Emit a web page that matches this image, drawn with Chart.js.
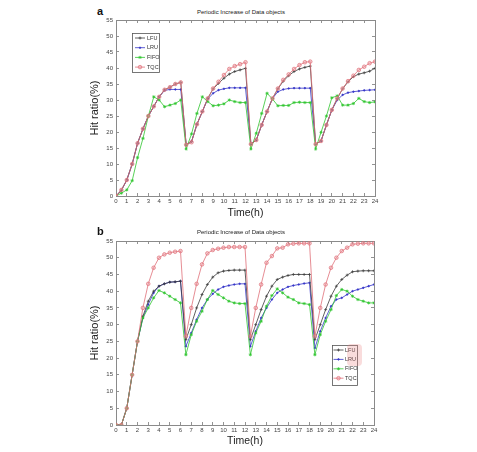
<!DOCTYPE html>
<html><head><meta charset="utf-8">
<script src="https://cdn.jsdelivr.net/npm/chart.js"></script>
<style>
body{margin:0;background:#fff;width:477px;height:452px;position:relative;overflow:hidden}
canvas{position:absolute;left:0}
.ttl{position:absolute;left:0;width:482px;text-align:center;font:6px 'Liberation Sans',sans-serif;color:#222;line-height:1}
.lt{position:absolute;left:97px;font:bold 11px 'Liberation Sans',sans-serif;color:#111;line-height:1}
</style></head>
<body>
<div class="lt" style="top:6px">a</div>
<div class="ttl" style="top:9px">Periodic Increase of Data objects</div>
<canvas id="ca" width="477" height="226" style="top:0"></canvas>
<div class="lt" style="top:226px">b</div>
<div class="ttl" style="top:229px">Periodic Increase of Data objects</div>
<canvas id="cb" width="477" height="226" style="top:226px"></canvas>
<script>
// ---- data ----
const times = [0,0.5,1,1.5,2,2.5,3,3.5,4,4.5,5,5.5,6,
  6.5,7,7.5,8,8.5,9,9.5,10,10.5,11,11.5,12,
  12.5,13,13.5,14,14.5,15,15.5,16,16.5,17,17.5,18,
  18.5,19,19.5,20,20.5,21,21.5,22,22.5,23,23.5,24];
const seriesNames = ['LFU','LRU','FIFO','TQC'];
const xTickLabels = [0,1,2,3,4,5,6,7,8,9,10,11,12,13,14,15,16,17,18,19,20,21,22,23,24];
const yTickLabels = [0,5,10,15,20,25,30,35,40,45,50,55];

// panel a
const lfuA = [0,1.8,5,10,16.5,21,25,28,31,33.2,34,35,35.5,
  16,17,22.4,26.4,30.5,33.5,35.2,36.8,38.1,38.9,39.4,39.9,
  16.2,17.5,22.2,26.4,30.5,33.5,35.9,37.6,38.9,39.7,40.2,40.6,
  16.2,17.2,22.2,26.9,30.5,33.5,35.7,37.3,38.1,38.5,39,39.9];
const lruA = [0,1.8,5,10,16.5,21,25,28,31,33,33.3,33.3,33.3,
  16,17,22.4,26.4,30.3,32.1,33.1,33.5,33.8,33.8,33.8,33.8,
  16.2,17.5,22.2,26.4,30.5,32.6,33.3,33.6,33.7,33.7,33.7,33.7,
  16.2,17.2,22.2,26.9,30,31.6,32.3,32.6,32.8,33,33.1,33.2];
const fifoA = [0,0.9,1.9,4.8,12,18,25,31,30,27.9,28.4,28.9,30,
  14.7,19.4,25.8,31,29.5,28.2,28.4,28.8,30,29.5,29.2,29.2,
  14.7,19.6,25.8,32.1,30.3,28.2,28.3,28.3,29.2,29.3,29.2,29.2,
  14.7,19.9,25,30.7,31.3,28.4,28.4,28.9,30.5,29.5,29.2,29.4];
const tqcA = [0,1.9,5,10,16.5,21,25,28,31,33.2,34,35,35.5,
  16,16.8,22.4,26.4,30.5,33.6,35.7,37.8,39.7,40.6,41.2,41.8,
  16.2,17.5,22.2,26.4,30.5,33.6,36.3,38,39.7,40.9,41.8,42,
  16.2,17.2,22.2,26.9,30.5,33.6,35.9,37.6,39.4,40.4,41.5,42];

// panel b
const lfuB = [0,0,5,15,25,32.5,37,40,41.5,42.2,42.7,42.8,43,
  25.5,30,35,39,42,44.2,45.5,46,46.2,46.3,46.3,46.3,
  25.5,30,34.5,38.5,41.5,43.5,44.2,44.7,45,45,45,45,
  25.5,30,34.5,38.5,41.5,43.5,44.8,45.8,46,46.1,46.1,46.1];
const lruB = [0,0,5,15,25,32,36,39.5,41.5,42.2,42.7,42.8,43,
  23.5,27.5,31.5,35,37.5,39.2,40.5,41.3,41.7,42,42.2,42.2,
  23.5,28,32,35,37.5,39.5,40.5,41.3,41.7,42,42.3,42.5,
  23,28,32,35.5,37.5,38,39,40,40.5,41,41.5,42];
const fifoB = [0,0,5,15,25,32,35,38,40.2,39.5,38.5,37.5,36.5,
  21,27,31,34,37.5,40.2,39,38,37,36.5,36.3,36.3,
  21,27.5,31,35.5,38.7,40.7,39.5,38.2,37.5,36.5,36.3,36,
  21,27,31,34.5,38.7,40.5,40,38.5,37.5,37,36.5,36.5];
const tqcB = [0,0,5,15,25,35,42.2,47,50,51,51.5,51.8,52,
  26.5,35,42.2,48,51.3,52.3,52.7,53,53.2,53.2,53.2,53.2,
  26.5,35,42,48.5,50.5,52.8,53,54,54.2,54.3,54.3,54.3,
  26.5,35,42,47,50,52,53,54,54.2,54.3,54.3,54.3];

// ---- styling ----
const FAM = "'Liberation Sans Narrow','Liberation Sans',sans-serif";
const styles = [
  {color:'#3a3a3a', pointStyle:'cross', radius:1.5, bg:'#3a3a3a', order:2},
  {color:'#3535c8', pointStyle:'circle', radius:0.8, bg:'#3535c8', order:3},
  {color:'#2fc52f', pointStyle:'star', radius:1.6, bg:'#2fc52f', order:1},
  {color:'#e07079', pointStyle:'circle', radius:1.8, bg:'rgba(235,150,160,0.45)', order:0}
];

function makeDatasets(arrs){
  return arrs.map((vals,i)=>({
    label: seriesNames[i],
    data: times.map((t,j)=>({x:t, y:vals[j]})),
    borderColor: styles[i].color,
    backgroundColor: styles[i].bg,
    pointBorderColor: styles[i].color,
    pointBackgroundColor: styles[i].bg,
    pointStyle: styles[i].pointStyle,
    pointRadius: styles[i].radius,
    pointBorderWidth: 0.7,
    borderWidth: 0.8,
    tension: 0,
    order: styles[i].order
  }));
}

function drawMarker(ctx, style, r, x, y, stroke, fill){
  ctx.save();
  ctx.strokeStyle = stroke; ctx.fillStyle = fill; ctx.lineWidth = 0.7;
  ctx.beginPath();
  if (style === 'circle') { ctx.arc(x,y,r,0,Math.PI*2); ctx.fill(); ctx.stroke(); }
  else if (style === 'cross') { ctx.moveTo(x-r,y); ctx.lineTo(x+r,y); ctx.moveTo(x,y-r); ctx.lineTo(x,y+r); ctx.stroke(); }
  else if (style === 'star') { ctx.moveTo(x-r,y); ctx.lineTo(x+r,y); ctx.moveTo(x,y-r); ctx.lineTo(x,y+r);
    const d=r*0.7; ctx.moveTo(x-d,y-d); ctx.lineTo(x+d,y+d); ctx.moveTo(x-d,y+d); ctx.lineTo(x+d,y-d); ctx.stroke(); }
  ctx.restore();
}

const boxLegend = {
  id:'boxLegend',
  afterDraw(chart, args, o){
    const ctx = chart.ctx;
    ctx.save();
    ctx.fillStyle = '#fff';
    ctx.fillRect(o.x, o.y, o.w, o.h);
    ctx.strokeStyle = '#555'; ctx.lineWidth = 0.8;
    ctx.strokeRect(o.x+0.5, o.y+0.5, o.w, o.h);
    chart.data.datasets.forEach((ds,i)=>{
      const cy = o.y + o.r0 + i*o.dy;
      ctx.strokeStyle = ds.borderColor; ctx.lineWidth = 0.8;
      ctx.beginPath(); ctx.moveTo(o.x+o.lx0, cy); ctx.lineTo(o.x+o.lx1, cy); ctx.stroke();
      drawMarker(ctx, ds.pointStyle, ds.pointRadius, o.x+(o.lx0+o.lx1)/2, cy, ds.pointBorderColor, ds.pointBackgroundColor);
      ctx.fillStyle = '#333'; ctx.font = "5.5px " + FAM; ctx.textBaseline = 'middle'; ctx.textAlign='left';
      ctx.fillText(ds.label, o.x+o.tx, cy);
    });
    if (o.hl) {
      ctx.fillStyle = 'rgba(235,130,130,0.28)';
      ctx.beginPath();
      if (ctx.roundRect) ctx.roundRect(o.hl[0], o.hl[1], o.hl[2], o.hl[3], 4); else ctx.rect(o.hl[0], o.hl[1], o.hl[2], o.hl[3]);
      ctx.fill();
    }
    ctx.restore();
  }
};

function makeScales(p){
  const grid = {drawOnChartArea:false, drawTicks:true, tickLength:-3, color:'#777', lineWidth:0.8};
  const border = {display:true, color:'#8a8a8a', width:1};
  const tickFont = {size:6, family:FAM};
  return {
    x:{type:'linear', position:'bottom', min:0, max:24,
      afterBuildTicks: s => { s.ticks = xTickLabels.map(v=>({value:v})); },
      ticks:{autoSkip:false, maxRotation:0, padding:5, font:tickFont, color:'#444'},
      grid, border,
      title:{display:true, text:'Time(h)', color:'#222', font:{size:10.5, family:FAM, lineHeight:1}, padding:{top:0,bottom:p.xtb}},
      afterFit: s => { s.height = p.xh; }},
    x2:{type:'linear', position:'top', min:0, max:24,
      afterBuildTicks: s => { s.ticks = xTickLabels.map(v=>({value:v})); },
      ticks:{display:false}, grid, border,
      afterFit: s => { s.height = p.top; }},
    y:{type:'linear', position:'left', min:0, max:55,
      afterBuildTicks: s => { s.ticks = yTickLabels.map(v=>({value:v})); },
      ticks:{padding:6, font:tickFont, color:'#444'},
      grid, border,
      title:{display:true, text:'Hit ratio(%)', color:'#222', font:{size:11, family:"'Liberation Sans',sans-serif", lineHeight:1}, padding:{top:1.5,bottom:0}},
      afterFit: s => { s.width = 28; }},
    y2:{type:'linear', position:'right', min:0, max:55,
      afterBuildTicks: s => { s.ticks = yTickLabels.map(v=>({value:v})); },
      ticks:{display:false}, grid, border,
      afterFit: s => { s.width = 1; }}
  };
}

function makeChart(id, arrs, p, legendOpts){
  return new Chart(document.getElementById(id), {
    type:'line',
    data:{datasets: makeDatasets(arrs)},
    options:{
      responsive:false, animation:false,
      layout:{padding:{left:88, right:p.right, top:0, bottom:0}},
      plugins:{legend:{display:false}, title:{display:false}, tooltip:{enabled:false}, boxLegend: legendOpts},
      scales: makeScales(p)
    },
    plugins:[boxLegend]
  });
}

makeChart('ca', [lfuA, lruA, fifoA, tqcA], {top:20, xh:30, xtb:8, right:101},
  {x:132, y:33, w:27, h:39, r0:5, dy:9.7, lx0:3, lx1:13, tx:15});
makeChart('cb', [lfuB, lruB, fifoB, tqcB], {top:15, xh:27, xtb:6, right:102},
  {x:332, y:119, w:25, h:40, r0:5, dy:9.4, lx0:1.5, lx1:11.5, tx:13, hl:[347,118,15,22]});
</script>
</body></html>
